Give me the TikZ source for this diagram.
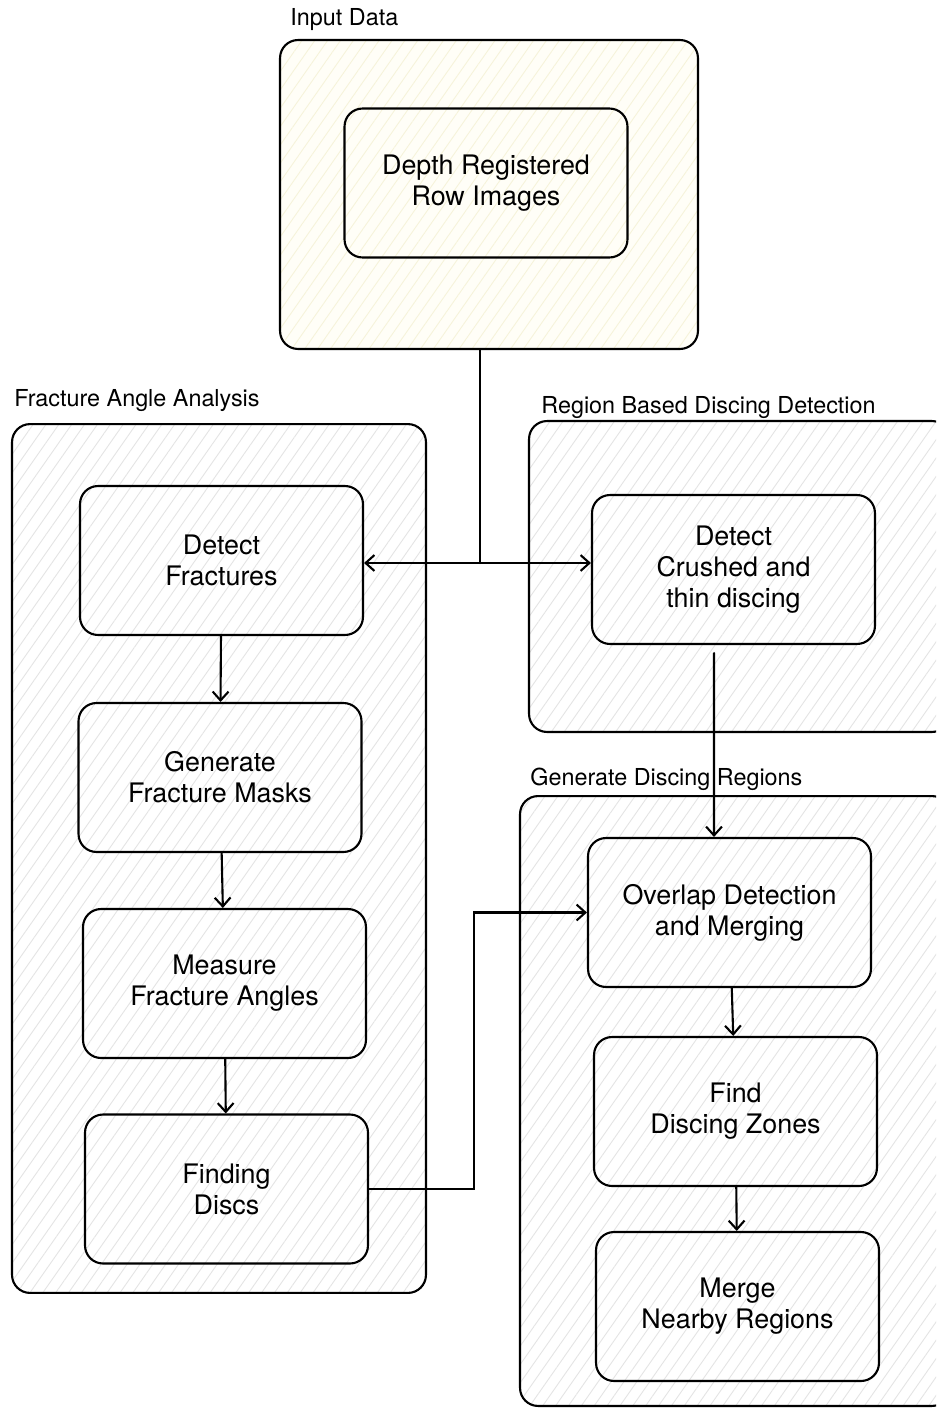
\documentclass[tikz,border=0pt]{standalone}
\usepackage{fontspec}
\setmainfont{TeX Gyre Heros}
\usetikzlibrary{arrows.meta,patterns.meta}
\definecolor{hatchgray}{RGB}{228,228,228}
\definecolor{inyellow}{RGB}{255,254,247}
\definecolor{hatchyellow}{RGB}{246,243,218}
\tikzset{
  groupbox/.style={draw,line width=1.2pt,rounded corners=0.36cm,
    preaction={fill=white},
    pattern={Lines[angle=55,distance=6pt,line width=0.5pt]},pattern color=hatchgray},
  procbox/.style={draw,line width=1.2pt,rounded corners=0.36cm,
    minimum width=5.66cm,minimum height=2.98cm,align=center,
    font=\fontsize{15.3}{17.6}\selectfont},
  grouplabel/.style={anchor=base west,inner sep=0pt,font=\fontsize{13.3}{16}\selectfont},
  flow/.style={line width=1.2pt},
}
\begin{document}
\begin{tikzpicture}[x=0.02cm,y=-0.02cm,line cap=round,>={Straight Barb[length=5pt,width=9pt]}]
\useasboundingbox (0,0) rectangle (936,1409);
\clip (0,0) rectangle (936,1409);
% group frames
\node[groupbox,minimum width=8.36cm,minimum height=6.18cm,
  preaction={fill=inyellow},pattern color=hatchyellow] (indata) at (489,194.5) {};
\node[groupbox,minimum width=8.28cm,minimum height=17.38cm] (fangle) at (219,858.5) {};
\node[groupbox,minimum width=8.42cm,minimum height=6.22cm] (region) at (739.5,576.5) {};
\node[groupbox,minimum width=8.6cm,minimum height=12.2cm] (gendisc) at (735,1101) {};
% group labels
\node[grouplabel] (indatalbl) at (290,26) {Input Data};
\node[grouplabel] (fanglelbl) at (14,406) {Fracture Angle Analysis};
\node[grouplabel] (regionlbl) at (541,413) {Region Based Discing Detection};
\node[grouplabel] (gendisclbl) at (530,785) {Generate Discing Regions};
% steps
\node[procbox] (depth) at (486,183) {Depth Registered\\Row Images};
\node[procbox] (dfract) at (221.5,560.5) {Detect\\Fractures};
\node[procbox] (masks) at (220,777.5) {Generate\\Fracture Masks};
\node[procbox] (angles) at (224.5,983.5) {Measure\\Fracture Angles};
\node[procbox] (discs) at (226.5,1189) {Finding\\Discs};
\node[procbox] (crushed) at (733.5,569.5) {Detect\\Crushed and\\thin discing};
\node[procbox] (overlap) at (729.5,912.5) {Overlap Detection\\and Merging};
\node[procbox] (zones) at (735.5,1111.5) {Find\\Discing Zones};
\node[procbox] (merge) at (737.5,1306.5) {Merge\\Nearby Regions};
% connectors
\coordinate (split) at (480,563);
\draw[flow] (split |- indata.south) -- (split);
\draw[flow,->] (split) -- (split -| dfract.east);
\draw[flow,->] (split) -- (split -| crushed.west);
\draw[flow,->] (dfract) -- (masks);
\draw[flow,->] (masks) -- (angles);
\draw[flow,->] (angles) -- (discs);
\draw[flow,->] (discs.east) -- ++(105,0) |- (overlap.west);
\draw[flow,->] ([xshift=-0.39cm,yshift=-0.16cm]crushed.south) -- ([xshift=-0.31cm]overlap.north);
\draw[flow,->] (overlap) -- (zones);
\draw[flow,->] (zones) -- (merge);
\end{tikzpicture}
\end{document}
